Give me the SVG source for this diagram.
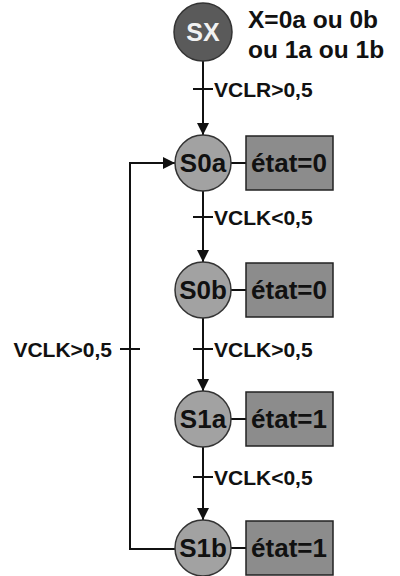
<svg xmlns="http://www.w3.org/2000/svg" width="400" height="576" viewBox="0 0 400 576">
<defs>
<marker id="arr" viewBox="0 0 10 10" refX="10" refY="5" markerWidth="14" markerHeight="12" markerUnits="userSpaceOnUse" orient="auto">
<path d="M0,0 L10,5 L0,10 z" fill="#111"/>
</marker>
<style>
.t{font-family:"Liberation Sans",Arial,sans-serif;font-weight:bold;fill:#111}
.lbl{font-size:21px}
.node{font-size:26px}
.st{fill:#a2a2a2;stroke:#333;stroke-width:1.5}
.box{fill:#8c8c8c;stroke:#222;stroke-width:1.5}
.ln{stroke:#111;stroke-width:2;fill:none}
</style>
</defs>
<rect width="400" height="576" fill="#fff"/>
<g id="connectors">
<line class="ln" x1="203" y1="61" x2="203" y2="135" marker-end="url(#arr)"/>
<line class="ln" x1="203" y1="191" x2="203" y2="262" marker-end="url(#arr)"/>
<line class="ln" x1="203" y1="318" x2="203" y2="391" marker-end="url(#arr)"/>
<line class="ln" x1="203" y1="447" x2="203" y2="520" marker-end="url(#arr)"/>
<path class="ln" d="M175,549 H130 V163 H175" marker-end="url(#arr)"/>
<line class="ln" x1="193" y1="89" x2="213" y2="89" stroke-width="1.5"/>
<line class="ln" x1="193" y1="217" x2="213" y2="217" stroke-width="1.5"/>
<line class="ln" x1="193" y1="349" x2="213" y2="349" stroke-width="1.5"/>
<line class="ln" x1="193" y1="477" x2="213" y2="477" stroke-width="1.5"/>
<line class="ln" x1="120" y1="349" x2="140" y2="349" stroke-width="1.5"/>
<line class="ln" x1="231" y1="163" x2="246" y2="163" stroke-width="1.5"/>
<line class="ln" x1="231" y1="290" x2="246" y2="290" stroke-width="1.5"/>
<line class="ln" x1="231" y1="419" x2="246" y2="419" stroke-width="1.5"/>
<line class="ln" x1="231" y1="548" x2="246" y2="548" stroke-width="1.5"/>
<text class="t lbl" x="214" y="97">VCLR&gt;0,5</text>
<text class="t lbl" x="214" y="225">VCLK&lt;0,5</text>
<text class="t lbl" x="214" y="357">VCLK&gt;0,5</text>
<text class="t lbl" x="214" y="485">VCLK&lt;0,5</text>
<text class="t lbl" x="112" y="357" text-anchor="end">VCLK&gt;0,5</text>
</g>
<g id="SX">
<circle cx="203" cy="32" r="29" fill="#5a5a5a" stroke="#333" stroke-width="1.5"/>
<text class="t" x="203" y="41" font-size="25" text-anchor="middle" style="fill:#f2f2f2">SX</text>
<text class="t" x="248" y="28" font-size="24.5">X=0a ou 0b</text>
<text class="t" x="248" y="58" font-size="24.5">ou 1a ou 1b</text>
</g>
<g id="S0a">
<circle class="st" cx="203" cy="163" r="28"/>
<text class="t node" x="203" y="172" text-anchor="middle">S0a</text>
<rect class="box" x="246" y="136" width="87" height="54"/>
<text class="t node" x="289" y="172" text-anchor="middle">état=0</text>
</g>
<g id="S0b">
<circle class="st" cx="203" cy="290" r="28"/>
<text class="t node" x="203" y="299" text-anchor="middle">S0b</text>
<rect class="box" x="246" y="263" width="87" height="54"/>
<text class="t node" x="289" y="299" text-anchor="middle">état=0</text>
</g>
<g id="S1a">
<circle class="st" cx="203" cy="419" r="28"/>
<text class="t node" x="203" y="428" text-anchor="middle">S1a</text>
<rect class="box" x="246" y="392" width="87" height="54"/>
<text class="t node" x="289" y="428" text-anchor="middle">état=1</text>
</g>
<g id="S1b">
<circle class="st" cx="203" cy="548" r="28"/>
<text class="t node" x="203" y="557" text-anchor="middle">S1b</text>
<rect class="box" x="246" y="521" width="87" height="54"/>
<text class="t node" x="289" y="557" text-anchor="middle">état=1</text>
</g>
</svg>
